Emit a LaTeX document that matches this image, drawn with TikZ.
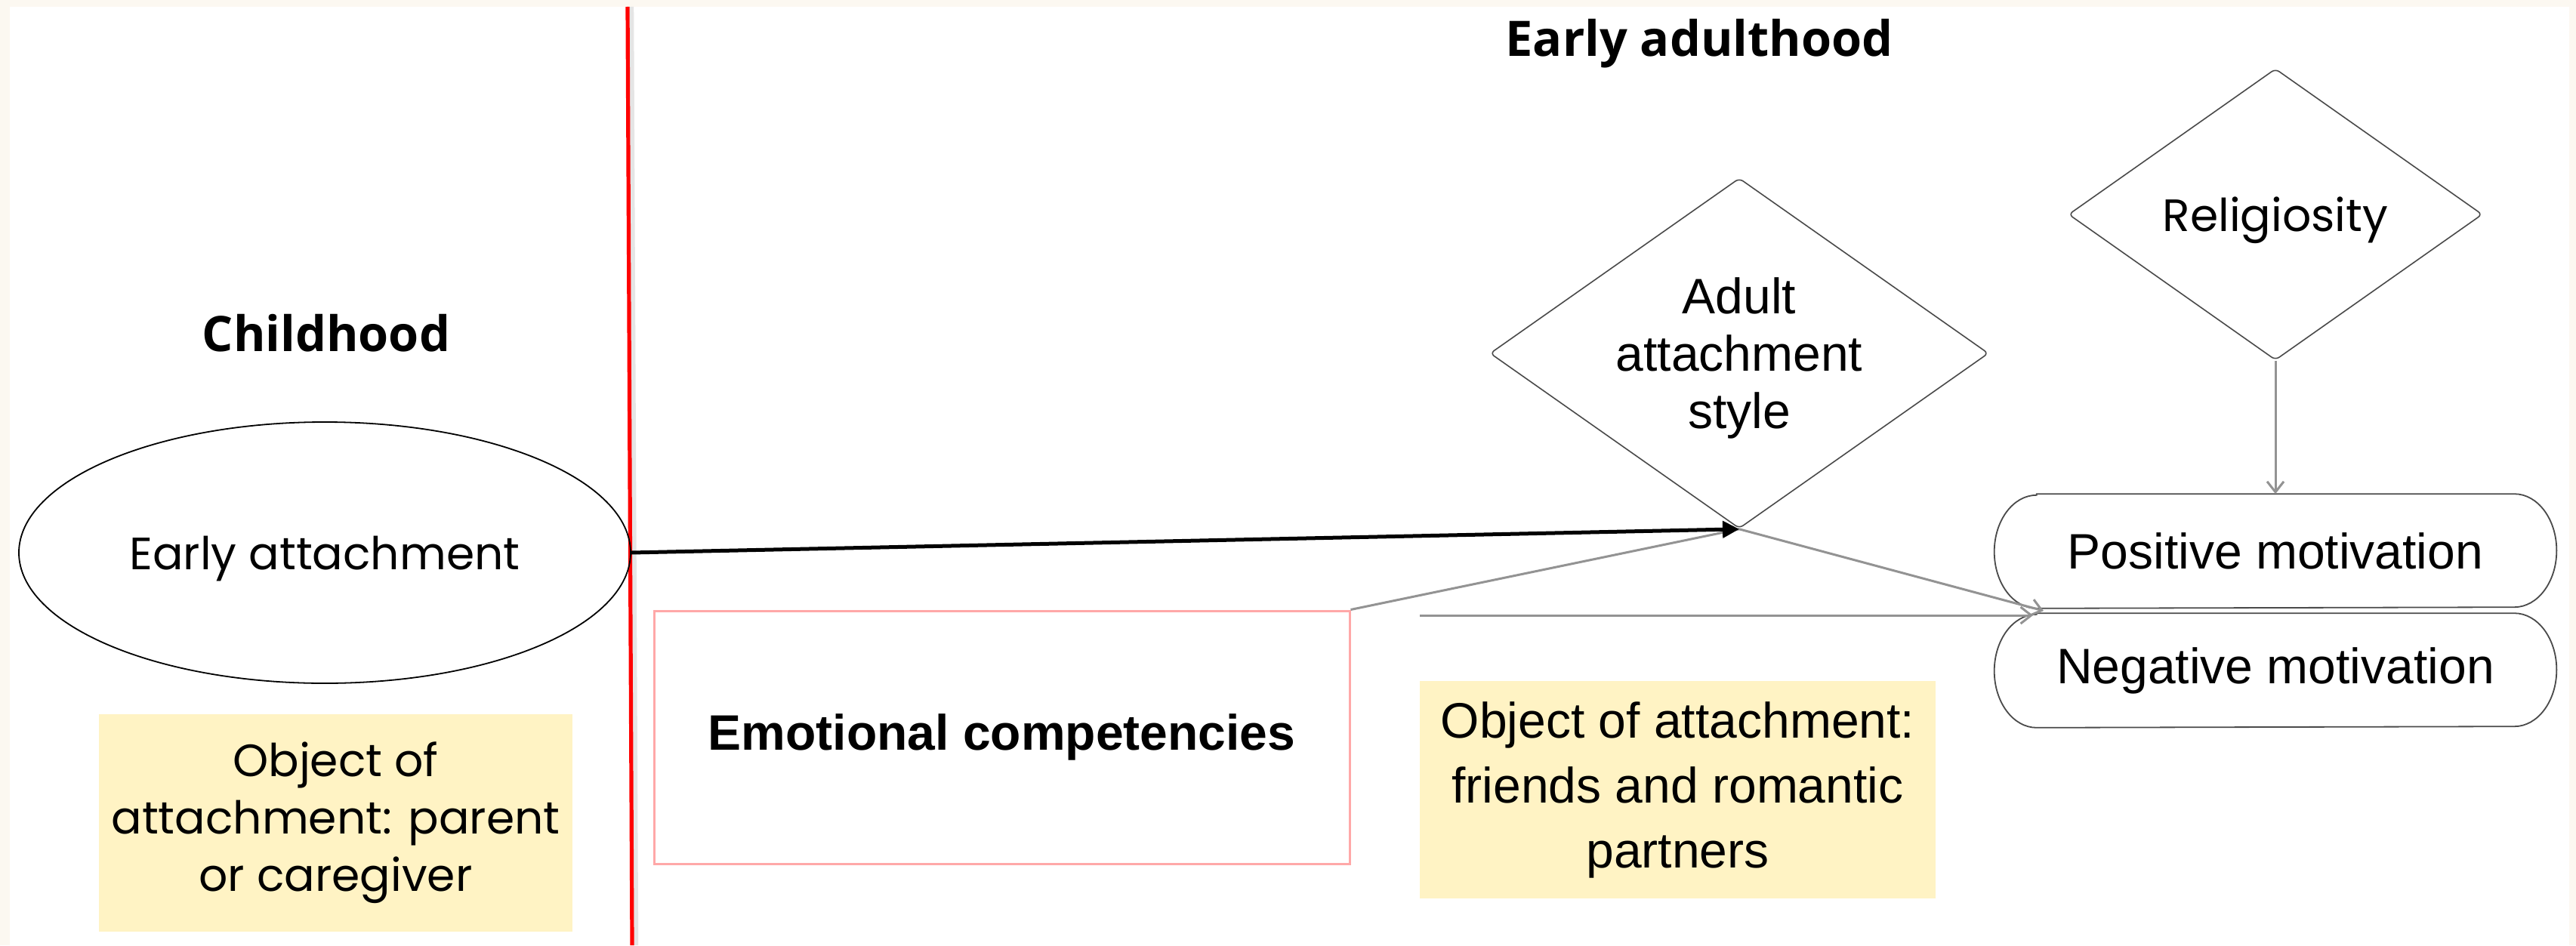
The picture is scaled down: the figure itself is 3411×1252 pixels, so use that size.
\documentclass[tikz,border=0pt]{standalone}
\usepackage{fontspec}
\setmainfont{Poppins}
\newfontfamily\grot{Liberation Sans}
\newfontfamily\headf{Open Sans}
\usetikzlibrary{shapes.geometric,arrows.meta}
\definecolor{cream}{HTML}{FCF8F1}
\definecolor{ybg}{HTML}{FFF3C4}
\definecolor{pinkc}{HTML}{FFA8A8}
\definecolor{lgray}{HTML}{939393}
\definecolor{dgray}{HTML}{4A4A4A}
\tikzset{
  headtext/.style={font=\headf\bfseries\fontsize{16.2}{19}\selectfont, inner sep=0pt},
  poptext/.style={font=\fontsize{15}{19}\selectfont},
  grottext/.style={font=\grot\fontsize{16.5}{21.5}\selectfont},
  ybox/.style={fill=ybg, align=center, inner sep=0pt},
  dia/.style={diamond, draw=dgray, line width=0.4pt, rounded corners=1.5pt, inner sep=0pt},
  pill/.style={rectangle, minimum width=185.75pt, minimum height=37.5pt, inner sep=0pt, grottext},
  pillline/.style={draw=dgray, line width=0.45pt},
  grayline/.style={draw=lgray, line width=0.75pt},
  grayarrow/.style={draw=lgray, line width=0.75pt, -{Straight Barb[length=3.5pt,width=5.5pt]}},
  blackarrow/.style={draw=black, line width=1.25pt, -{Triangle[length=5.5pt,width=5.5pt]}}
}
\begin{document}
\begin{tikzpicture}[x=0.25pt,y=-0.25pt]
\useasboundingbox (0,0) rectangle (3411,1252);
\fill[cream] (0,0) rectangle (3411,1252);
\fill[white] (13,9) rectangle (3402,1252);
% divider
\draw[black!10, line width=1.6pt] (836,9) -- (842,1252);
\draw[red, line width=1.3pt] (831,9) -- (837,1252);

% headings
\node[headtext, anchor=base] (child) at (432,465) {Childhood};
\node[headtext, anchor=base] (adulthood) at (2250,75) {Early adulthood};

% childhood side
\node[ellipse, draw, line width=0.45pt, minimum width=202.5pt, minimum height=86.5pt, poptext, text depth=0pt] (ea) at (430,732) {Early attachment};
\node[ybox, poptext, minimum width=156.75pt, minimum height=72pt] (yl) at (444.5,1090) {Object of\\attachment: parent\\or caregiver};

% adulthood side
\node[draw=pinkc, line width=0.75pt, minimum width=230.25pt, minimum height=83.75pt, inner sep=0pt, font=\grot\bfseries\fontsize{16.5}{20}\selectfont] (em) at (1326.5,976.5) {Emotional competencies};
\node[ybox, grottext, minimum width=170.75pt, minimum height=72pt] (yr) at (2221.5,1046) {Object of attachment:\\friends and romantic\\partners};
\node[dia, minimum width=165pt, minimum height=116pt,
      label={[align=center, yshift=-1.5pt, font=\grot\fontsize{16.5}{19}\selectfont]center:Adult\\attachment\\style}] (ad) at (2303,468) {};
\node[dia, minimum width=137pt, minimum height=96.5pt, poptext, text depth=0pt] (rel) at (3013,284) {Religiosity};
\node[pill] (pos) at (3013,730) {Positive motivation};
\node[pill] (neg) at (3013,888) {Negative motivation};
\foreach \p in {pos,neg}{
  \draw[pillline] ([xshift=14pt]\p.north west) -- ([xshift=-14pt]\p.north east)
    arc[start angle=90, end angle=-90, x radius=14pt, y radius=18.75pt]
    -- ([xshift=14pt]\p.south west)
    arc[start angle=270, end angle=90, x radius=14pt, y radius=18.75pt] -- cycle;
}

% connectors
\coordinate (J) at (2706,809);
\coordinate (hs) at (1880,815);
\coordinate (he) at (2692,815);
\draw[grayline] (em.north east) -- (ad.south);
\draw[grayarrow] (ad.south) -- (J);
\draw[grayarrow] (hs) -- (he);
\draw[grayarrow] (rel.south) -- (pos.north);
\draw[blackarrow] (ea.east) -- (ad.south);
\end{tikzpicture}
\end{document}
